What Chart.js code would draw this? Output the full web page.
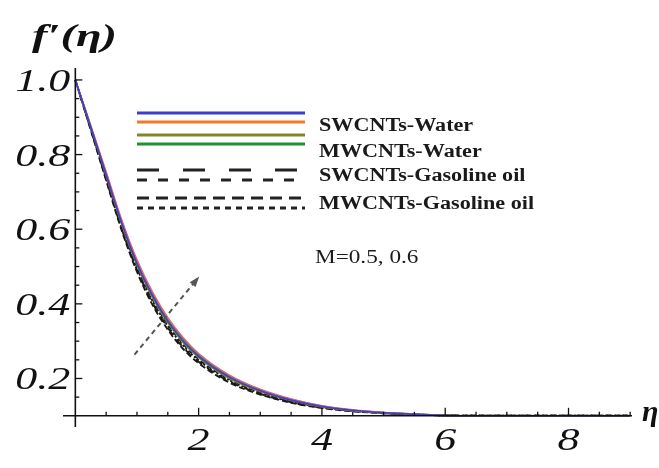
<!DOCTYPE html>
<html lang="en">
<head>
    <meta charset="UTF-8">
    <title>f'(eta) profiles</title>
    <script src="https://cdn.jsdelivr.net/npm/chart.js"></script>
    <style>
        body { margin: 0; background: #fff; }
        .chart-box { position: relative; width: 659px; height: 468px; }
    </style>
</head>
<body>
    <div class="chart-box">
        <canvas id="velocityChart"></canvas>
    </div>

    <script>
        // eta samples and f'(eta) for each nanofluid, M = 0.5 and M = 0.6
        const eta = [0, 0.25, 0.5, 0.75, 1, 1.25, 1.5, 1.75, 2, 2.5, 3, 3.5, 4, 4.5, 5, 5.5, 6, 7, 8, 9];

        const swWater06 = [1.000, 0.878, 0.753, 0.626, 0.518, 0.432, 0.363, 0.309, 0.267, 0.209, 0.171, 0.145, 0.127, 0.116, 0.109, 0.105, 0.101, 0.100, 0.100, 0.100];
        const mwWater06 = [1.000, 0.876, 0.750, 0.622, 0.513, 0.427, 0.358, 0.305, 0.263, 0.206, 0.169, 0.144, 0.126, 0.115, 0.109, 0.105, 0.101, 0.100, 0.100, 0.100];
        const swWater05 = [1.000, 0.874, 0.746, 0.618, 0.508, 0.422, 0.353, 0.300, 0.259, 0.203, 0.167, 0.142, 0.125, 0.115, 0.108, 0.104, 0.101, 0.100, 0.100, 0.100];
        const mwWater05 = [1.000, 0.873, 0.743, 0.614, 0.504, 0.417, 0.349, 0.296, 0.256, 0.200, 0.165, 0.141, 0.124, 0.114, 0.108, 0.104, 0.101, 0.100, 0.100, 0.100];
        const swOil06   = [1.000, 0.871, 0.741, 0.610, 0.500, 0.413, 0.345, 0.292, 0.252, 0.198, 0.163, 0.139, 0.124, 0.114, 0.108, 0.104, 0.101, 0.100, 0.100, 0.100];
        const mwOil06   = [1.000, 0.870, 0.738, 0.606, 0.496, 0.408, 0.341, 0.288, 0.249, 0.195, 0.161, 0.138, 0.123, 0.113, 0.108, 0.104, 0.101, 0.100, 0.100, 0.100];
        const swOil05   = [1.000, 0.868, 0.734, 0.602, 0.491, 0.403, 0.336, 0.283, 0.245, 0.192, 0.159, 0.136, 0.122, 0.113, 0.107, 0.103, 0.101, 0.100, 0.100, 0.100];
        const mwOil05   = [1.000, 0.866, 0.731, 0.598, 0.486, 0.398, 0.331, 0.279, 0.241, 0.189, 0.157, 0.135, 0.121, 0.112, 0.107, 0.103, 0.101, 0.100, 0.100, 0.100];

        const xTicks = [2, 4, 6, 8];
        const yTicks = [0.2, 0.4, 0.6, 0.8, 1.0];
        const legendLabels = ['SWCNTs-Water', 'MWCNTs-Water', 'SWCNTs-Gasoline oil', 'MWCNTs-Gasoline oil'];
        const paramLabel = 'M=0.5, 0.6';

        // dashed arrow showing the direction of increasing M (data units)
        const arrowFrom = { x: 0.96, y: 0.264 };
        const arrowTo = { x: 2.01, y: 0.473 };

        const blue = '#3b3fcc', orange = '#f27a22', olive = '#84842a', green = '#22902e';

        function series(values) {
            return eta.map((x, i) => ({ x: x, y: values[i] }));
        }

        const datasets = [
            { data: series(swWater05), borderColor: blue, borderWidth: 1.6 },
            { data: series(swWater06), borderColor: '#e0607a', borderWidth: 1.6 },
            { data: series(mwWater05), borderColor: olive, borderWidth: 1.6 },
            { data: series(mwWater06), borderColor: green, borderWidth: 1.6 },
            { data: series(swOil05), borderColor: '#1a1a1a', borderWidth: 1.9, borderDash: [8, 6] },
            { data: series(swOil06), borderColor: '#1a1a1a', borderWidth: 1.9, borderDash: [4, 4] },
            { data: series(mwOil05), borderColor: '#1a1a1a', borderWidth: 1.9, borderDash: [6, 3] },
            { data: series(mwOil06), borderColor: '#1a1a1a', borderWidth: 1.9, borderDash: [2, 2] }
        ];

        // text stretched horizontally by sx
        function wideText(ctx, text, x, y, font, sx, align) {
            ctx.save();
            ctx.font = font;
            ctx.textAlign = align;
            ctx.textBaseline = 'alphabetic';
            ctx.translate(x, y);
            ctx.scale(sx, 1);
            ctx.fillText(text, 0, 0);
            ctx.restore();
        }

        function line(ctx, x1, y1, x2, y2) {
            ctx.beginPath();
            ctx.moveTo(x1, y1);
            ctx.lineTo(x2, y2);
            ctx.stroke();
        }

        const decor = {
            id: 'decor',
            afterDraw(chart) {
                const ctx = chart.ctx;
                const area = chart.chartArea;
                const xs = chart.scales.x, ys = chart.scales.y;
                const x0 = xs.getPixelForValue(0);
                const y0 = ys.getPixelForValue(0.1);

                // axes crossing at (0, 0.1)
                ctx.save();
                ctx.strokeStyle = '#111';
                ctx.lineWidth = 1.6;
                line(ctx, area.left, y0, area.right, y0);
                line(ctx, x0, area.bottom, x0, area.top);

                ctx.lineWidth = 1.3;
                for (let v = 0.15; v < 1.01; v += 0.05) {
                    const py = ys.getPixelForValue(v);
                    const major = yTicks.some(t => Math.abs(t - v) < 1e-6);
                    line(ctx, x0, py, x0 + (major ? 7 : 4), py);
                }
                for (let v = 0.5; v < 9.01; v += 0.5) {
                    const px = xs.getPixelForValue(v);
                    const major = xTicks.some(t => Math.abs(t - v) < 1e-6);
                    line(ctx, px, y0, px, y0 - (major ? 8 : 4));
                }

                // tick labels
                ctx.fillStyle = '#111';
                const tickFont = 'italic 31px "Liberation Serif"';
                yTicks.forEach(v => {
                    wideText(ctx, v.toFixed(1), x0 - 5, ys.getPixelForValue(v) + 11, tickFont, 1.42, 'right');
                });
                xTicks.forEach(v => {
                    wideText(ctx, String(v), xs.getPixelForValue(v), 450, tickFont, 1.42, 'center');
                });

                // axis titles
                wideText(ctx, 'f\u2032(\u03b7)', 32, 46, 'bold italic 31px "Liberation Serif"', 1.5, 'left');
                wideText(ctx, '\u03b7', area.right + 10, 421, 'bold italic 30px "Liberation Serif"', 1.0, 'left');

                // arrow for increasing M
                const ax1 = xs.getPixelForValue(arrowFrom.x), ay1 = ys.getPixelForValue(arrowFrom.y);
                const ax2 = xs.getPixelForValue(arrowTo.x), ay2 = ys.getPixelForValue(arrowTo.y);
                const ang = Math.atan2(ay2 - ay1, ax2 - ax1);
                ctx.strokeStyle = '#555';
                ctx.fillStyle = '#555';
                ctx.lineWidth = 2;
                ctx.setLineDash([5, 4]);
                line(ctx, ax1, ay1, ax2 - 8 * Math.cos(ang), ay2 - 8 * Math.sin(ang));
                ctx.setLineDash([]);
                ctx.beginPath();
                ctx.moveTo(ax2, ay2);
                ctx.lineTo(ax2 - 11 * Math.cos(ang - 0.35), ay2 - 11 * Math.sin(ang - 0.35));
                ctx.lineTo(ax2 - 11 * Math.cos(ang + 0.35), ay2 - 11 * Math.sin(ang + 0.35));
                ctx.closePath();
                ctx.fill();

                // legend: two line samples per label
                const rows = [
                    { y: 113, color: blue, dash: [] },
                    { y: 122, color: orange, dash: [] },
                    { y: 135, color: olive, dash: [] },
                    { y: 144, color: green, dash: [] },
                    { y: 170, color: '#222', dash: [22, 24] },
                    { y: 180, color: '#222', dash: [10, 11] },
                    { y: 198, color: '#222', dash: [12, 7] },
                    { y: 208, color: '#222', dash: [6, 5] }
                ];
                ctx.lineWidth = 3;
                rows.forEach(r => {
                    ctx.strokeStyle = r.color;
                    ctx.setLineDash(r.dash);
                    line(ctx, 137, r.y, 305, r.y);
                });
                ctx.setLineDash([]);

                ctx.fillStyle = '#1a1a1a';
                const legendFont = 'bold 18px "Liberation Serif"';
                const baselines = [131, 157, 181, 209];
                legendLabels.forEach((t, i) => wideText(ctx, t, 319, baselines[i], legendFont, 1.23, 'left'));

                wideText(ctx, paramLabel, 315, 263, '18px "Liberation Serif"', 1.29, 'left');
                ctx.restore();
            }
        };

        window.onload = function() {
            const ctx = document.getElementById('velocityChart').getContext('2d');
            new Chart(ctx, {
                type: 'line',
                data: { datasets: datasets },
                options: {
                    responsive: true,
                    maintainAspectRatio: false,
                    animation: false,
                    layout: { padding: { left: 63, right: 27, top: 68, bottom: 41 } },
                    elements: {
                        point: { radius: 0 },
                        line: { cubicInterpolationMode: 'monotone', fill: false }
                    },
                    plugins: { legend: { display: false }, tooltip: { enabled: false } },
                    scales: {
                        x: { type: 'linear', min: -0.2, max: 9.03, display: false },
                        y: { type: 'linear', min: 0.07, max: 1.032, display: false }
                    }
                },
                plugins: [decor]
            });
        };
    </script>
</body>
</html>
